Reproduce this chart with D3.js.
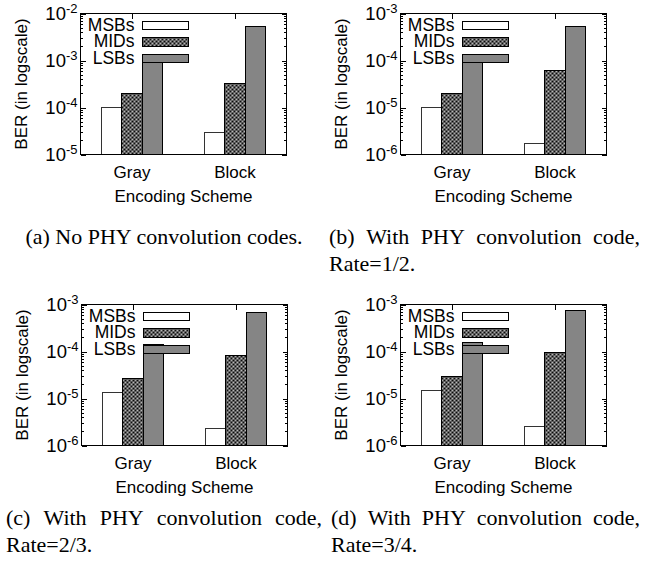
<!DOCTYPE html>
<html>
<head>
<meta charset="utf-8">
<script src="https://cdn.jsdelivr.net/npm/d3@7"></script>
<style>
  body { margin: 0; background: #fff; }
  svg { display: block; }
</style>
</head>
<body>
<div class="figure"></div>
<script>
const categories = ['Gray', 'Block'];
const series = ['MSBs', 'MIDs', 'LSBs'];

// BER values, one entry per series (MSBs, MIDs, LSBs)
const noCodeGray = [1.0e-4, 2.0e-4, 1.05e-3];
const noCodeBlock = [3.0e-5, 3.2e-4, 5.3e-3];
const rate12Gray = [1.0e-5, 2.0e-5, 1.07e-4];
const rate12Block = [1.7e-6, 6.2e-5, 5.3e-4];
const rate23Gray = [1.32e-5, 2.67e-5, 1.43e-4];
const rate23Block = [2.27e-6, 8.3e-5, 6.8e-4];
const rate34Gray = [1.5e-5, 2.98e-5, 1.58e-4];
const rate34Block = [2.54e-6, 9.3e-5, 7.6e-4];

const yDomainNoCode = [1e-5, 1e-2];
const yDomainCoded = [1e-6, 1e-3];

const yTitle = 'BER (in logscale)';
const xTitle = 'Encoding Scheme';

const captionA = ['(a) No PHY convolution codes.'];
const captionB = ['(b) With PHY convolution code,', 'Rate=1/2.'];
const captionC = ['(c) With PHY convolution code,', 'Rate=2/3.'];
const captionD = ['(d) With PHY convolution code,', 'Rate=3/4.'];

const width = 660;
const height = 565;
const plotW = 206;
const plotH = 141;
const sans = '"Liberation Sans", Arial, Helvetica, sans-serif';
const serif = '"Liberation Serif", "Times New Roman", Times, serif';

const panels = [
  {left: 80, top: 13, domain: yDomainNoCode, values: {Gray: noCodeGray, Block: noCodeBlock}},
  {left: 400, top: 13, domain: yDomainCoded, values: {Gray: rate12Gray, Block: rate12Block}},
  {left: 81, top: 304, domain: yDomainCoded, values: {Gray: rate23Gray, Block: rate23Block}},
  {left: 400, top: 304, domain: yDomainCoded, values: {Gray: rate34Gray, Block: rate34Block}},
];

const captions = [
  {x0: 6, x1: 322, y: 244, lines: captionA, center: true},
  {x0: 329, x1: 640, y: 244, lines: captionB},
  {x0: 6, x1: 322, y: 525, lines: captionC},
  {x0: 331, x1: 640, y: 525, lines: captionD},
];

const svg = d3.select('.figure')
  .append('svg')
    .attr('width', width)
    .attr('height', height)
    .attr('viewBox', [0, 0, width, height]);

const defs = svg.append('defs');

// crosshatch for MIDs
const mids = defs.append('pattern')
  .attr('id', 'mids')
  .attr('patternUnits', 'userSpaceOnUse')
  .attr('width', 4)
  .attr('height', 4);
mids.append('rect').attr('width', 4).attr('height', 4).attr('fill', '#fff');
mids.append('path')
  .attr('d', 'M0,0L4,4M4,0L0,4M-1,1L1,-1M3,5L5,3M-1,3L1,5M3,-1L5,1')
  .attr('stroke', '#000')
  .attr('stroke-width', 1.2);

// fine stipple for LSBs
const lsbs = defs.append('pattern')
  .attr('id', 'lsbs')
  .attr('patternUnits', 'userSpaceOnUse')
  .attr('width', 2)
  .attr('height', 2);
lsbs.append('rect').attr('width', 2).attr('height', 2).attr('fill', '#b0b0b0');
lsbs.append('rect').attr('width', 1).attr('height', 1).attr('fill', '#4a4a4a');
lsbs.append('rect').attr('x', 1).attr('y', 1).attr('width', 1).attr('height', 1).attr('fill', '#6a6a6a');

const fill = {
  'MSBs': '#fff',
  'MIDs': 'url(#mids)',
  'LSBs': 'url(#lsbs)',
};

panels.forEach(drawPanel);
captions.forEach(drawCaption);

function drawPanel(p) {
  const g = svg.append('g')
    .attr('transform', `translate(${p.left + 0.5},${p.top + 0.5})`);

  const y = d3.scaleLog().domain(p.domain).range([plotH, 0]);
  const x0 = d3.scaleBand()
    .domain(categories)
    .range([0, plotW])
    .paddingInner(0.4)
    .paddingOuter(0.2);
  const x1 = d3.scaleBand()
    .domain(series)
    .range([0, x0.bandwidth()]);

  const majors = y.ticks().filter(d => isPow10(d));
  const minors = y.ticks().filter(d => !isPow10(d));

  // bars
  categories.forEach(cat => {
    g.selectAll(null)
      .data(series.map((s, i) => ({s, v: p.values[cat][i]})))
      .join('rect')
        .attr('x', d => x0(cat) + x1(d.s))
        .attr('y', d => y(d.v))
        .attr('width', x1.bandwidth())
        .attr('height', d => plotH - y(d.v))
        .attr('fill', d => fill[d.s])
        .attr('stroke', d => d.s === 'MSBs' ? '#333' : '#000')
        .attr('stroke-width', 1)
        .attr('shape-rendering', 'crispEdges');
  });

  // axes, ticks drawn inward
  const left = g.append('g')
    .call(d3.axisLeft(y).tickValues(majors).tickSizeInner(-5).tickSizeOuter(0).tickPadding(3));

  g.append('g')
    .call(d3.axisLeft(y).tickValues(minors).tickSizeInner(-2.5).tickSizeOuter(0).tickFormat(''));
  g.append('g')
    .attr('transform', `translate(${plotW},0)`)
    .call(d3.axisRight(y).tickValues(majors).tickSizeInner(-5).tickSizeOuter(0).tickFormat(''));
  g.append('g')
    .attr('transform', `translate(${plotW},0)`)
    .call(d3.axisRight(y).tickValues(minors).tickSizeInner(-2.5).tickSizeOuter(0).tickFormat(''));
  g.append('g')
    .call(d3.axisTop(x0).tickSizeInner(-5).tickSizeOuter(0).tickFormat(''));
  g.append('g')
    .attr('transform', `translate(0,${plotH})`)
    .call(d3.axisBottom(x0).tickSizeInner(0).tickSizeOuter(0).tickPadding(11));

  g.selectAll('.domain').remove();
  g.selectAll('.tick line').attr('stroke', '#000').attr('shape-rendering', 'crispEdges');
  g.selectAll('g')
    .attr('font-family', sans)
    .attr('font-size', '17px');
  g.selectAll('.tick text').attr('fill', '#000');

  left.selectAll('.tick text').each(function(d) {
    const t = d3.select(this).text(null).attr('dy', '0.38em');
    t.append('tspan').attr('font-size', '18.5px').text('10');
    t.append('tspan')
      .attr('dy', '-0.6em')
      .attr('font-size', '13px')
      .text(Math.round(Math.log10(d)));
  });

  g.append('rect')
    .attr('width', plotW)
    .attr('height', plotH)
    .attr('fill', 'none')
    .attr('stroke', '#000')
    .attr('shape-rendering', 'crispEdges');

  // legend
  const key = g.append('g')
    .attr('font-family', sans)
    .attr('font-size', '17.5px');
  series.forEach((s, i) => {
    key.append('text')
      .attr('x', 54)
      .attr('y', 17 + i * 16.7)
      .attr('text-anchor', 'end')
      .text(s);
    key.append('rect')
      .attr('x', 62)
      .attr('y', 7.5 + i * 16.7)
      .attr('width', 46)
      .attr('height', 8.5)
      .attr('fill', fill[s])
      .attr('stroke', '#000')
      .attr('shape-rendering', 'crispEdges');
  });

  // titles
  g.append('text')
    .attr('transform', `translate(-54,${plotH / 2}) rotate(-90)`)
    .attr('text-anchor', 'middle')
    .attr('font-family', sans)
    .attr('font-size', '17px')
    .text(yTitle);

  g.append('text')
    .attr('x', plotW / 2)
    .attr('y', plotH + 47)
    .attr('text-anchor', 'middle')
    .attr('font-family', sans)
    .attr('font-size', '17px')
    .text(xTitle);
}

function drawCaption(c) {
  c.lines.forEach((line, i) => {
    const text = svg.append('text')
      .attr('y', c.y + i * 27)
      .attr('font-family', serif)
      .attr('font-size', '22px')
      .attr('fill', '#000');

    if (c.center) {
      text.attr('x', (c.x0 + c.x1) / 2).attr('text-anchor', 'middle').text(line);
      return;
    }
    if (i === c.lines.length - 1) {
      text.attr('x', c.x0).text(line);
      return;
    }
    // justified line: spread the words over the column
    const words = line.split(' ');
    const spans = words.map(w => text.append('tspan').text(w));
    const sizes = spans.map(t => t.node().getComputedTextLength());
    const gap = (c.x1 - c.x0 - d3.sum(sizes)) / (words.length - 1);
    let x = c.x0;
    spans.forEach((t, k) => {
      t.attr('x', x);
      x += sizes[k] + gap;
    });
  });
}

function isPow10(d) {
  const e = Math.log10(d);
  return Math.abs(e - Math.round(e)) < 1e-9;
}
</script>
</body>
</html>
